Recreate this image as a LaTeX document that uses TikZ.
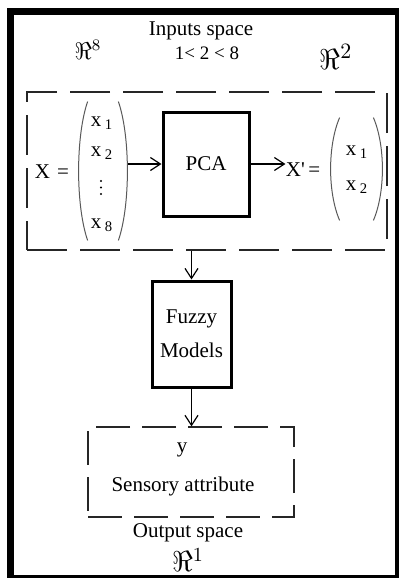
\documentclass[tikz,border=0pt]{standalone}
\usepackage{fontspec}
\setmainfont{Liberation Serif}
\usetikzlibrary{arrows.meta}
\tikzset{
  blockbox/.style={draw, line width=1.5pt, inner sep=0pt, align=center},
  spacebox/.style={draw=black!85, line width=0.6pt, dash pattern=on 20pt off 6.5pt, inner sep=0pt},
  flow/.style={-{Straight Barb[length=5pt,width=6.5pt]}, line width=0.6pt},
  paren/.style={draw=black!65, line width=0.5pt},
  vecbox/.style={inner sep=0pt},
  eqlabel/.style={inner sep=0pt}
}
\begin{document}
\begin{tikzpicture}[x=0.5pt, y=-0.5pt, font=\fontsize{10.5}{12.6}\selectfont]
  \useasboundingbox (0,0) rectangle (398,578);
  \draw[line width=3.5pt] (10.5,11) rectangle (398.5,578.5);
  % input space
  \node (intitle) at (201,31) {Inputs space};
  \node (rin) at (88,50) {\fontsize{12}{14}\selectfont$\Re^8$};
  \node (dims) at (207,53) {\fontsize{9.5}{11}\selectfont 1< 2 < 8};
  \node (rred) at (336,57) {\fontsize{15}{17}\selectfont$\Re^2$};
  \node[spacebox, minimum width=180pt, minimum height=79pt] (inbox) at (207,171) {};
  % original vector
  \node[eqlabel] (xeq) at (52,172) {X\hspace{3.5pt}=};
  \node[vecbox, minimum width=25pt, minimum height=69pt] (vecx) at (103,171) {};
  \draw[paren] ([xshift=5pt]vecx.north west) .. controls +(-12,35) and +(-12,-35) .. ([xshift=5pt]vecx.south west);
  \draw[paren] ([xshift=-5pt]vecx.north east) .. controls +(12,35) and +(12,-35) .. ([xshift=-5pt]vecx.south east);
  \node (xa) at (102,123) {x\,\textsubscript{1}};
  \node (xb) at (102,153) {x\,\textsubscript{2}};
  \coordinate (xdots) at (101,187.5);
  \foreach \dy in {-6.5,0,6.5}
    \fill (xdots) ++(0,\dy) circle (0.6pt);
  \node (xh) at (102,225) {x\,\textsubscript{8}};
  % PCA
  \node[blockbox, minimum width=43pt, minimum height=52pt] (pca) at (206,164) {PCA};
  % reduced vector
  \node[eqlabel] (xpeq) at (303,170) {X\textquotesingle\,=};
  \node[vecbox, minimum width=26.5pt, minimum height=51pt] (vecxp) at (356.5,169) {};
  \draw[paren] ([xshift=5pt]vecxp.north west) .. controls +(-12,28) and +(-12,-28) .. ([xshift=5pt]vecxp.south west);
  \draw[paren] ([xshift=-5pt]vecxp.north east) .. controls +(12,28) and +(12,-28) .. ([xshift=-5pt]vecxp.south east);
  \node (ya) at (357,152) {x\,\textsubscript{1}};
  \node (yb) at (357,187) {x\,\textsubscript{2}};
  \draw[flow] (vecx.east |- pca.west) -- (pca.west);
  \draw[flow] (pca.east) -- (pca.east -| xpeq.west);
  % fuzzy models
  \node[blockbox, minimum width=39.5pt, minimum height=53pt, font=\fontsize{10.5}{17}\selectfont] (fuzzy) at (191.5,334) {Fuzzy\\Models};
  \draw[flow] (fuzzy.north |- inbox.south) -- (fuzzy.north);
  % output space
  \node[spacebox, dash pattern=on 17pt off 6pt, minimum width=103pt, minimum height=45pt] (outbox) at (191,472) {};
  \draw[flow] (fuzzy.south) -- (fuzzy.south |- outbox.north);
  \node (yout) at (182,450) {y};
  \node (attr) at (183,486) {Sensory attribute};
  \node (outtitle) at (188,533) {Output space};
  \node (rout) at (188,560) {\fontsize{14}{16}\selectfont$\Re^1$};
\end{tikzpicture}
\end{document}
